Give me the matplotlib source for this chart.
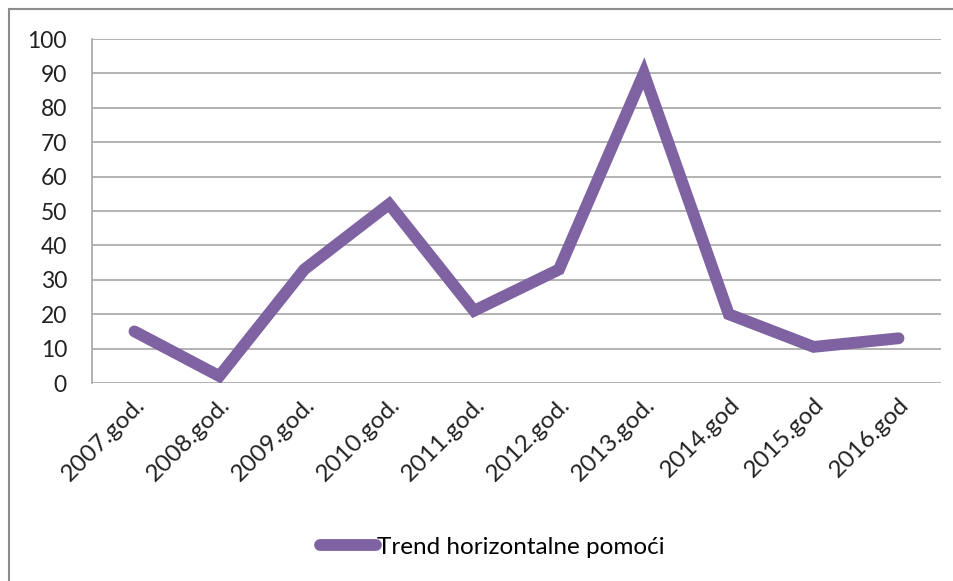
import matplotlib.pyplot as plt
from matplotlib.patches import Rectangle

years = ["2007.god.", "2008.god.", "2009.god.", "2010.god.", "2011.god.",
         "2012.god.", "2013.god.", "2014.god", "2015.god", "2016.god"]
trend = [15, 2, 33, 52, 21, 33, 90, 20, 10.5, 13]
series_name = "Trend horizontalne pomoći"

plt.rcParams['font.family'] = ['Lato', 'DejaVu Sans']

fig = plt.figure(figsize=(9.54, 5.81), dpi=100)
ax = fig.add_axes([92/954, 1 - 383/581, (941 - 92)/954, (383 - 39)/581])

# outer chart frame
fig.patches.append(Rectangle((9/954, -0.01), 1.0, 1 - 9/581 + 0.01,
                             transform=fig.transFigure, fill=False,
                             edgecolor="#8c8c8c", linewidth=1.5))

x = list(range(len(years)))
line, = ax.plot(x, trend, color="#7E62A1", linewidth=8.5,
                solid_capstyle="round", solid_joinstyle="miter",
                label=series_name, zorder=3)

ax.set_xlim(-0.5, len(years) - 0.5)
ax.set_ylim(0, 100)
ax.set_yticks(range(0, 101, 10))
ax.yaxis.grid(True, color="#a6a6a6", linewidth=1.2)
ax.set_axisbelow(True)
for s in ["top", "right", "bottom"]:
    ax.spines[s].set_visible(False)
ax.spines["left"].set_color("#a6a6a6")
ax.spines["left"].set_linewidth(1.2)
ax.tick_params(axis="both", length=0, colors="#222222")
ax.tick_params(axis="y", pad=18, labelsize=16.5)
ax.set_xticks(x)
ax.set_xticklabels(years, rotation=45, ha="right", rotation_mode="anchor")
ax.tick_params(axis="x", pad=8, labelsize=17.5)

fig.legend(handles=[line], loc="center", bbox_to_anchor=(492/954, 1 - 547/581),
           frameon=False, fontsize=17.5, handlelength=2.3, handletextpad=0.05)

fig.savefig("out.png", dpi=100)
